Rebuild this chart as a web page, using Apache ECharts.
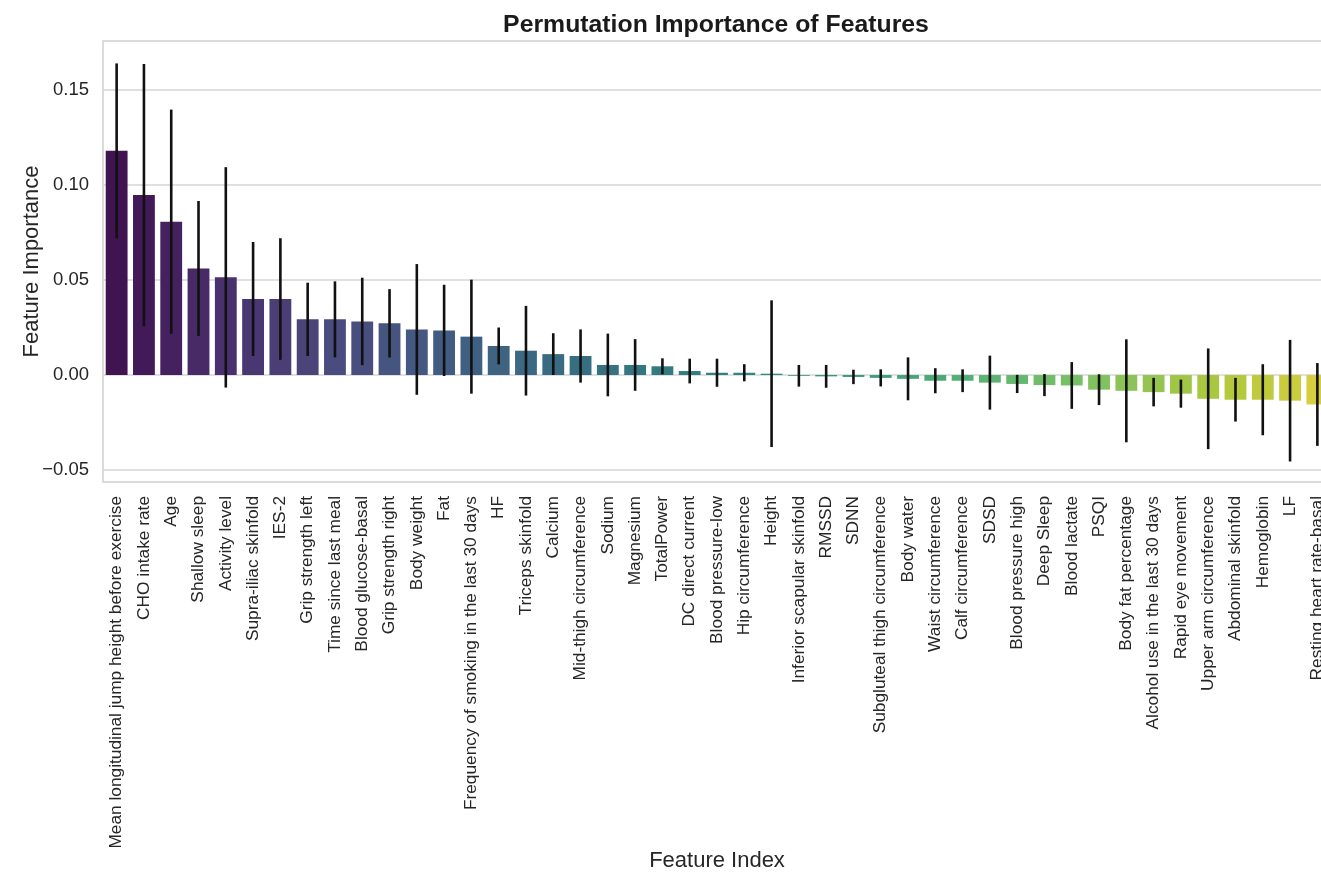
<!DOCTYPE html>
<html>
<head>
<meta charset="utf-8">
<script src="https://cdn.jsdelivr.net/npm/echarts@6/dist/echarts.min.js"></script>
<style>
  html, body { margin: 0; padding: 0; background: #fff; overflow: hidden; }
  #chart { width: 1321px; height: 874px; }
</style>
</head>
<body>
<div id="chart"></div>
<script>
const features = [
  "Mean longitudinal jump height before exercise", "CHO intake rate", "Age", "Shallow sleep",
  "Activity level", "Supra-iliac skinfold", "IES-2", "Grip strength left", "Time since last meal",
  "Blood glucose-basal", "Grip strength right", "Body weight", "Fat",
  "Frequency of smoking in the last 30 days", "HF", "Triceps skinfold", "Calcium",
  "Mid-thigh circumference", "Sodium", "Magnesium", "TotalPower", "DC direct current",
  "Blood pressure-low", "Hip circumference", "Height", "Inferior scapular skinfold", "RMSSD",
  "SDNN", "Subgluteal thigh circumference", "Body water", "Waist circumference",
  "Calf circumference", "SDSD", "Blood pressure high", "Deep Sleep", "Blood lactate", "PSQI",
  "Body fat percentage", "Alcohol use in the last 30 days", "Rapid eye movement",
  "Upper arm circumference", "Abdominal skinfold", "Hemoglobin", "LF", "Resting heart rate-basal"
];

// mean importance
const importance = [
  0.118, 0.0947, 0.0807, 0.0561, 0.0514, 0.040, 0.040, 0.0293, 0.0293,
  0.0282, 0.0272, 0.0240, 0.0235,
  0.0202, 0.0153, 0.0128, 0.011,
  0.010, 0.0053, 0.0053, 0.0046, 0.0021,
  0.0012, 0.0012, 0.0007, -0.0004, -0.0007,
  -0.001, -0.0015, -0.002, -0.003,
  -0.003, -0.004, -0.0047, -0.0053, -0.0055, -0.0077,
  -0.0083, -0.009, -0.0098,
  -0.0125, -0.013, -0.013, -0.0135, -0.0155
];

// std (error bar half length)
const stdDev = [
  0.046, 0.069, 0.059, 0.0355, 0.058, 0.030, 0.032, 0.0193, 0.020,
  0.023, 0.018, 0.0344, 0.024,
  0.030, 0.0097, 0.0236, 0.011,
  0.014, 0.0165, 0.0136, 0.0042, 0.0065,
  0.0074, 0.0045, 0.0386, 0.0057, 0.006,
  0.0038, 0.0045, 0.0113, 0.0066,
  0.006, 0.0142, 0.0048, 0.0058, 0.0123, 0.0081,
  0.0271, 0.0075, 0.0074,
  0.0265, 0.0115, 0.0187, 0.032, 0.0218
];

const yTicks = [-0.05, 0, 0.05, 0.10, 0.15];

// viridis stops, sampled like seaborn and desaturated (saturation .75)
const viridisStops = ["#440154", "#482475", "#414487", "#355f8d", "#2a788e", "#21918c",
  "#22a884", "#44bf70", "#7ad151", "#bddf26", "#fde725"];

function hexToRgb(h) {
  return [1, 3, 5].map(k => parseInt(h.slice(k, k + 2), 16) / 255);
}

function desat(rgb, f) {
  let [r, g, b] = rgb;
  const mx = Math.max(r, g, b), mn = Math.min(r, g, b);
  const l = (mx + mn) / 2;
  if (mx === mn) return rgb;
  const d = mx - mn;
  let s = l > 0.5 ? d / (2 - mx - mn) : d / (mx + mn);
  let h;
  if (mx === r) h = (g - b) / d + (g < b ? 6 : 0);
  else if (mx === g) h = (b - r) / d + 2;
  else h = (r - g) / d + 4;
  h /= 6;
  s *= f;
  const q = l < 0.5 ? l * (1 + s) : l + s - l * s;
  const p = 2 * l - q;
  const hue = t => {
    if (t < 0) t += 1;
    if (t > 1) t -= 1;
    if (t < 1 / 6) return p + (q - p) * 6 * t;
    if (t < 1 / 2) return q;
    if (t < 2 / 3) return p + (q - p) * (2 / 3 - t) * 6;
    return p;
  };
  return [hue(h + 1 / 3), hue(h), hue(h - 1 / 3)];
}

function viridis(t) {
  const pos = t * (viridisStops.length - 1);
  const i = Math.min(Math.floor(pos), viridisStops.length - 2);
  const f = pos - i;
  const a = hexToRgb(viridisStops[i]), b = hexToRgb(viridisStops[i + 1]);
  const rgb = desat(a.map((v, k) => v + (b[k] - v) * f), 0.75);
  return "rgb(" + rgb.map(v => Math.round(v * 255)).join(",") + ")";
}

const n = features.length;
const barData = importance.map((v, i) => ({
  value: v,
  itemStyle: { color: viridis((i + 1) / (n + 1)) }
}));
const errData = importance.map((v, i) => [i, v, stdDev[i]]);

const chart = echarts.init(document.getElementById("chart"));
const textColor = "#262626";
const font = "'Liberation Sans', Arial, sans-serif";

chart.setOption({
  animation: false,
  backgroundColor: "#fff",
  textStyle: { fontFamily: font },
  title: {
    text: "Permutation Importance of Features",
    left: 711,
    textAlign: "center",
    top: 8,
    textStyle: { fontFamily: font, fontSize: 24.8, fontWeight: "bold", color: "#1a1a1a" }
  },
  grid: {
    left: 103,
    right: -10,
    top: 41,
    bottom: 392,
    show: true,
    borderColor: "#d0d0d0",
    borderWidth: 1.5,
    outerBoundsMode: "none",
    containLabel: false
  },
  xAxis: {
    type: "category",
    data: features,
    name: "Feature Index",
    nameLocation: "middle",
    nameGap: 368,
    nameMoveOverlap: false,
    nameTextStyle: { fontSize: 22, color: textColor, fontFamily: font },
    axisLine: { show: false },
    axisTick: { show: false },
    axisLabel: {
      rotate: 90,
      interval: 0,
      fontSize: 17.3,
      color: textColor,
      margin: 14,
      fontFamily: font
    },
    splitLine: { show: false }
  },
  yAxis: {
    type: "value",
    min: -0.0563,
    max: 0.1758,
    name: "Feature Importance",
    nameLocation: "middle",
    nameGap: 60,
    nameMoveOverlap: false,
    nameTextStyle: { fontSize: 22, color: textColor, fontFamily: font },
    axisLine: { show: false },
    axisTick: { show: false, customValues: yTicks },
    axisLabel: {
      customValues: yTicks,
      fontSize: 18.5,
      color: textColor,
      margin: 14,
      fontFamily: font,
      formatter: v => v.toFixed(2).replace("-", "\u2212")
    },
    splitLine: { show: true, lineStyle: { color: "#d6d6d6", width: 1.5 } }
  },
  series: [
    {
      type: "bar",
      data: barData,
      barWidth: "80%",
      z: 2
    },
    {
      type: "custom",
      data: errData,
      encode: { x: 0, y: 1 },
      z: 3,
      renderItem: (params, api) => {
        const i = api.value(0), v = api.value(1), s = api.value(2);
        const p1 = api.coord([i, v + s]);
        const p2 = api.coord([i, v - s]);
        return {
          type: "line",
          shape: { x1: p1[0], y1: p1[1], x2: p2[0], y2: p2[1] },
          style: { stroke: "#111", lineWidth: 2.6 }
        };
      }
    }
  ]
});
</script>
</body>
</html>
